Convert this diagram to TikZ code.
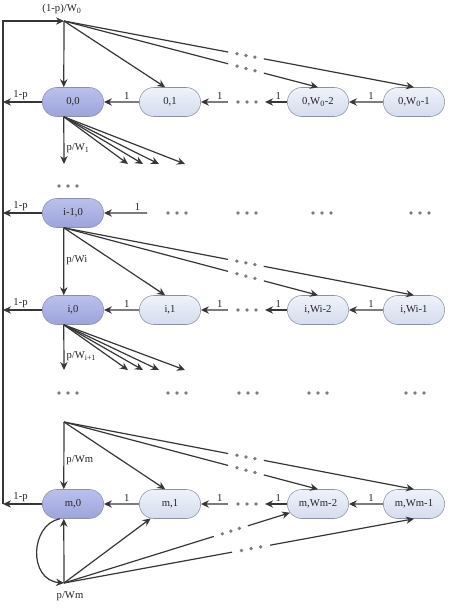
\documentclass[tikz,border=0pt]{standalone}
\usepackage{fontspec}
\setmainfont{Liberation Serif}
\usetikzlibrary{arrows.meta,calc,shapes.misc}
\definecolor{lnc}{HTML}{363636}
\definecolor{dotc}{HTML}{7C7C7C}
\definecolor{bordc}{HTML}{8A90AA}
\definecolor{lighttop}{HTML}{EEF2FA}
\definecolor{lightbot}{HTML}{D5DCEE}
\definecolor{darktop}{HTML}{BBC0EC}
\definecolor{darkbot}{HTML}{9CA3DA}
\begin{document}
\begin{tikzpicture}[
        x=0.75pt, y=-0.75pt,
        font=\fontsize{8}{9.6}\selectfont
    ]
    \tikzset{
        mynode/.style = {rounded rectangle, draw=bordc, align=center, text=black!85,
            minimum width=48pt, minimum height=21.75pt, inner sep=1pt,
            top color=lighttop, bottom color=lightbot},
        mynodeb/.style = {mynode, top color=darktop, bottom color=darkbot},
        edgen/.style = {-, line width=0.9pt, draw=lnc},
        edgea/.style = {edgen, -{Stealth[length=6pt,width=5.5pt]}},
        dotn/.style = {fill=dotc},
        lbl/.style = {inner sep=1.5pt, text=black!85},
    }
    \useasboundingbox (0,0) rectangle (450,608);
    \node[mynodeb] at (73,102) (n00) {0,0};
    \node[mynode] at (170,102) (n01) {0,1};
    \node[mynode] at (318,102) (n0W2) {0,W\textsubscript{0}-2};
    \node[mynode] at (414,102) (n0W1) {0,W\textsubscript{0}-1};
    \node[mynodeb] at (73,213) (nh0) {i-1,0};
    \node[mynodeb] at (73,310) (ni0) {i,0};
    \node[mynode] at (170,310) (ni1) {i,1};
    \node[mynode] at (318,310) (niW2) {i,Wi-2};
    \node[mynode] at (414,310) (niW1) {i,Wi-1};
    \node[mynodeb] at (73,504) (nm0) {m,0};
    \node[mynode] at (170,504) (nm1) {m,1};
    \node[mynode] at (318,504) (nmW2) {m,Wm-2};
    \node[mynode] at (414,504) (nmW1) {m,Wm-1};
    %
    \coordinate (s0) at (64,21);
    \coordinate (sm) at (64,422);
    \coordinate (sb) at (64,583);
    \coordinate (lb) at (3,504);
    \coordinate (lt) at (3,21);
    \coordinate (gh) at (147,213);
    \node[lbl] (t0) at (62,9) {(1-p)/W\textsubscript{0}};
    \node[lbl] (tb) at (70,596) {p/Wm};
    %
    \draw[edgea] (lb) -- (lt) -- (s0);
    \foreach \n in {n00,nh0,ni0,nm0}
        \draw[edgea] (\n) -- (\n -| lb) node[lbl,above,pos=.55] {1-p};
    %
    \foreach \rw in {0,i,m}{
        \coordinate (ga\rw) at ($(n\rw1.east)+(27,0)$);
        \coordinate (gb\rw) at ($(n\rw W2.west)+(-22,0)$);
        \draw[edgea] (n\rw1) -- (n\rw0) node[lbl,above,pos=.35] {1};
        \draw[edgea] (ga\rw) -- (n\rw1) node[lbl,above,pos=.3] {1};
        \draw[edgea] (n\rw W2) -- (gb\rw) node[lbl,above,pos=.4] {1};
        \draw[edgea] (n\rw W1) -- (n\rw W2) node[lbl,above,pos=.35] {1};
    }
    \draw[edgea] (gh) -- (nh0) node[lbl,above,pos=.22] {1};
    %
    \draw[edgea] (s0) -- (n00.122);
    \draw[edgea] (s0) -- (n01.108);
    \draw[edgea] (nh0.238) -- (ni0.122) node[lbl,right,pos=.48] {p/Wi};
    \draw[edgea] (nh0.238) -- (ni1.108);
    \draw[edgea] (sm) -- (nm0.122) node[lbl,right,pos=.57] {p/Wm};
    \draw[edgea] (sm) -- (nm1.108);
    \draw[edgea] (sb) -- (nm0.238);
    \draw[edgea] (sb) -- (nm1);
    \draw[edgea] (nm0.228) .. controls (30,525) and (28,580) .. (sb);
    %
    \coordinate (e0) at (64,164);
    \coordinate (ei) at (64,370);
    \draw[edgea] (n00.238) -- (e0) node[lbl,right,pos=.67] {p/W\textsubscript{1}};
    \draw[edgea] (ni0.238) -- (ei) node[lbl,right,pos=.7] {p/W\textsubscript{i+1}};
    \foreach \x [count=\k] in {128,143,159,185}{
        \coordinate (f0\k) at (\x,164);
        \coordinate (fi\k) at (\x,370);
        \draw[edgea] (n00.238) -- (f0\k);
        \draw[edgea] (ni0.238) -- (fi\k);
    }
    %
    \foreach \src/\dst/\ta/\tb in {
            s0/n0W2.north/.646/.787, s0/n0W1.north/.469/.571,
            nh0.238/niW2.north/.646/.787, nh0.238/niW1.north/.469/.571,
            sm/nmW2.north/.646/.787, sm/nmW1.north/.469/.571,
            sb/nmW2/.59/.724, sb/nmW1.south/.48/.589}{
        \draw[edgen] (\src) -- ($(\src)!\ta!(\dst)$);
        \foreach \k in {1,2,3}{
            \pgfmathsetmacro\tq{\ta+\k*(\tb-\ta)/4}
            \fill[dotn] ($(\src)!\tq!(\dst)$) circle (1.4pt);
        }
        \draw[edgea] ($(\src)!\tb!(\dst)$) -- (\dst);
    }
    %
    \foreach \x/\y in {247/102, 247/310, 247/504, 68/186, 177/213, 247/213,
            322/213, 420/213, 68/393, 177/393, 248/393, 318/393, 415/393}
        \foreach \d in {-9,0,9}
            \fill[dotn] (\x+\d,\y) circle (1.4pt);
\end{tikzpicture}
\end{document}
